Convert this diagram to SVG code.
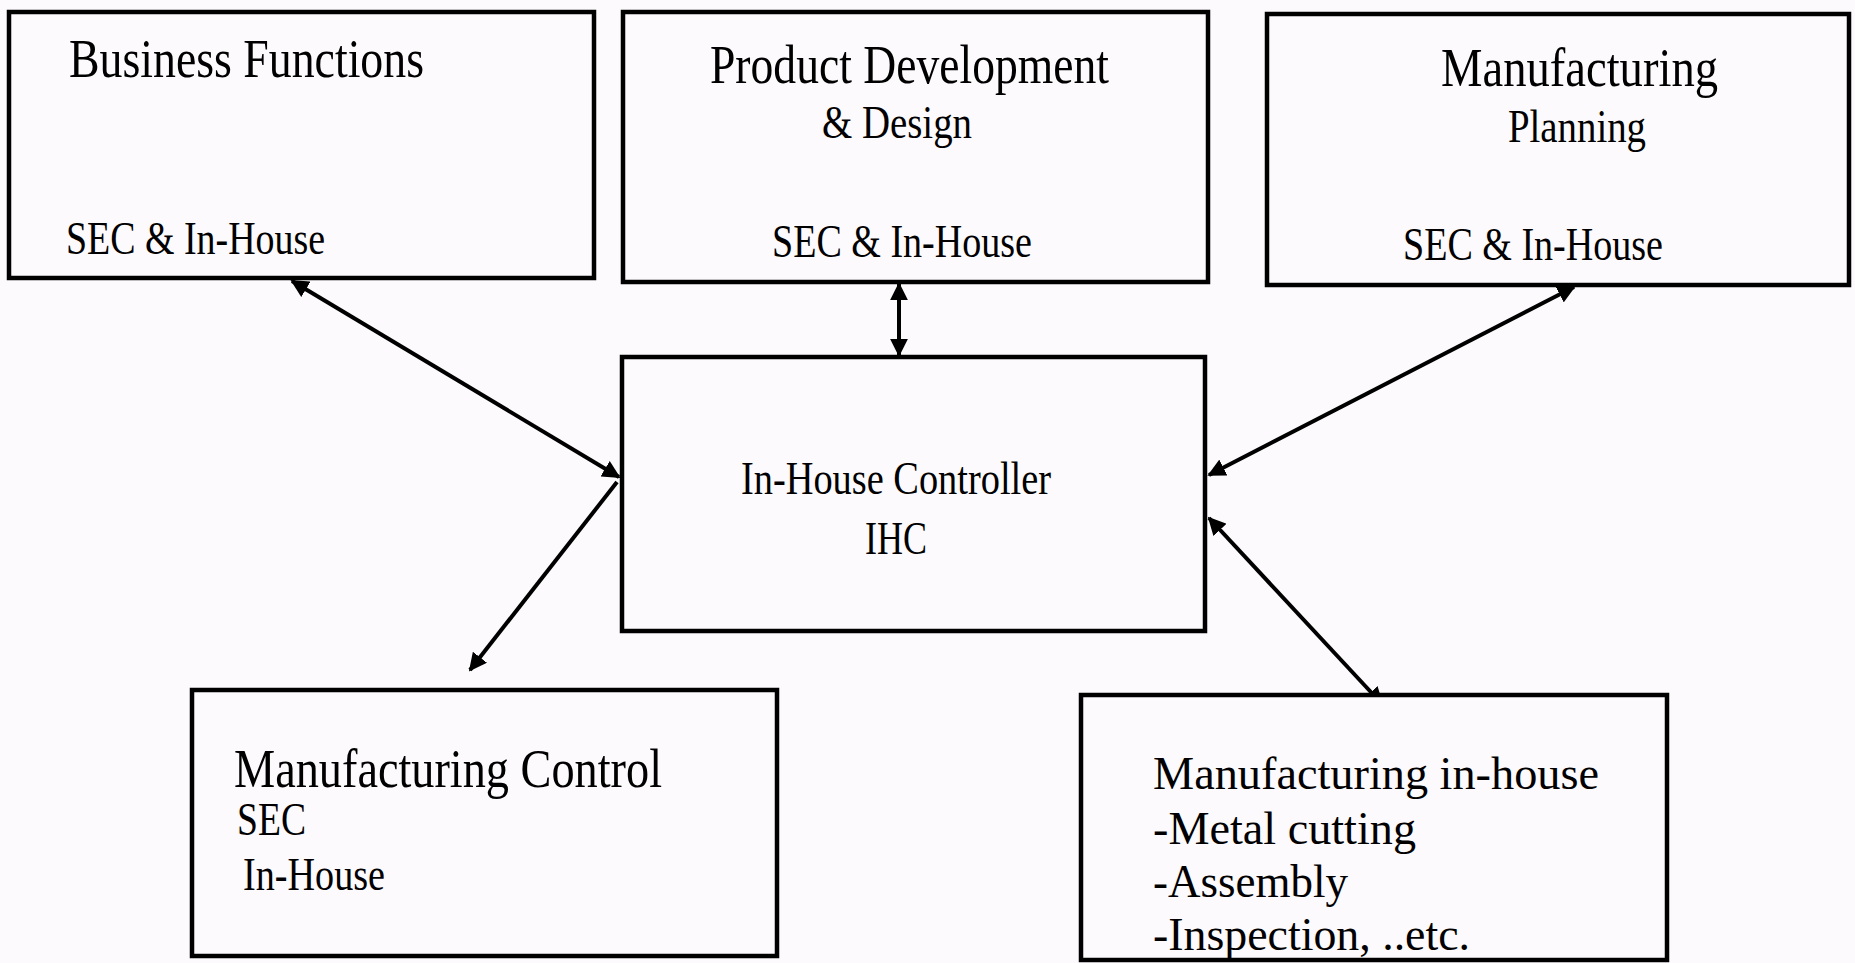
<svg xmlns="http://www.w3.org/2000/svg" width="1855" height="963" viewBox="0 0 1855 963">
<style>
.box{fill:#fdfafd;stroke:#000;stroke-width:4.5}
.t{font-family:"Liberation Serif","Times New Roman",serif;fill:#000}
.big{font-size:55px}
.mid{font-size:46px}
.lst{font-size:47px}
.con{stroke:#000;stroke-width:4;fill:none}
</style>
<defs>
<marker id="ah" viewBox="0 0 10 10" refX="9" refY="5" markerWidth="4.5" markerHeight="4.5" orient="auto-start-reverse" markerUnits="strokeWidth">
<path d="M0,0 L10,5 L0,10 Z" fill="#000"/>
</marker>
</defs>
<rect width="1855" height="963" fill="#fdfafd"/>
<g id="connectors">
<line class="con" x1="292" y1="281" x2="619" y2="477" marker-start="url(#ah)" marker-end="url(#ah)"/>
<line class="con" x1="899" y1="284" x2="899" y2="355" marker-start="url(#ah)" marker-end="url(#ah)"/>
<line class="con" x1="1574" y1="287" x2="1209" y2="475" marker-start="url(#ah)" marker-end="url(#ah)"/>
<line class="con" x1="617" y1="482" x2="470" y2="670" marker-end="url(#ah)"/>
<line class="con" x1="1209" y1="518" x2="1382" y2="704" marker-start="url(#ah)" marker-end="url(#ah)"/>
</g>
<g id="business-functions">
<rect class="box" x="9" y="12" width="585" height="266"/>
<text class="t big" x="69" y="77" textLength="355" lengthAdjust="spacingAndGlyphs">Business Functions</text>
<text class="t mid" x="66" y="254" textLength="259" lengthAdjust="spacingAndGlyphs">SEC &amp; In-House</text>
</g>
<g id="product-development">
<rect class="box" x="623" y="12" width="585" height="270"/>
<text class="t big" x="710" y="83" textLength="399" lengthAdjust="spacingAndGlyphs">Product Development</text>
<text class="t mid" x="822" y="138" textLength="150" lengthAdjust="spacingAndGlyphs">&amp; Design</text>
<text class="t mid" x="772" y="257" textLength="260" lengthAdjust="spacingAndGlyphs">SEC &amp; In-House</text>
</g>
<g id="manufacturing-planning">
<rect class="box" x="1267" y="14" width="582" height="271"/>
<text class="t big" x="1441" y="86" textLength="277" lengthAdjust="spacingAndGlyphs">Manufacturing</text>
<text class="t mid" x="1508" y="142" textLength="138" lengthAdjust="spacingAndGlyphs">Planning</text>
<text class="t mid" x="1403" y="260" textLength="260" lengthAdjust="spacingAndGlyphs">SEC &amp; In-House</text>
</g>
<g id="in-house-controller">
<rect class="box" x="622" y="357" width="583" height="274"/>
<text class="t mid" x="741" y="494" textLength="310" lengthAdjust="spacingAndGlyphs">In-House Controller</text>
<text class="t mid" x="865" y="554" textLength="62" lengthAdjust="spacingAndGlyphs">IHC</text>
</g>
<g id="manufacturing-control">
<rect class="box" x="192" y="690" width="585" height="266"/>
<text class="t big" x="234" y="787" textLength="428" lengthAdjust="spacingAndGlyphs">Manufacturing Control</text>
<text class="t mid" x="237" y="835" textLength="69" lengthAdjust="spacingAndGlyphs">SEC</text>
<text class="t mid" x="243" y="890" textLength="142" lengthAdjust="spacingAndGlyphs">In-House</text>
</g>
<g id="manufacturing-in-house">
<rect class="box" x="1081" y="695" width="586" height="265"/>
<text class="t lst" x="1153" y="789" textLength="446" lengthAdjust="spacingAndGlyphs">Manufacturing in-house</text>
<text class="t lst" x="1153" y="844" textLength="263" lengthAdjust="spacingAndGlyphs">-Metal cutting</text>
<text class="t lst" x="1153" y="897" textLength="195" lengthAdjust="spacingAndGlyphs">-Assembly</text>
<text class="t lst" x="1153" y="950" textLength="317" lengthAdjust="spacingAndGlyphs">-Inspection, ..etc.</text>
</g>
</svg>
